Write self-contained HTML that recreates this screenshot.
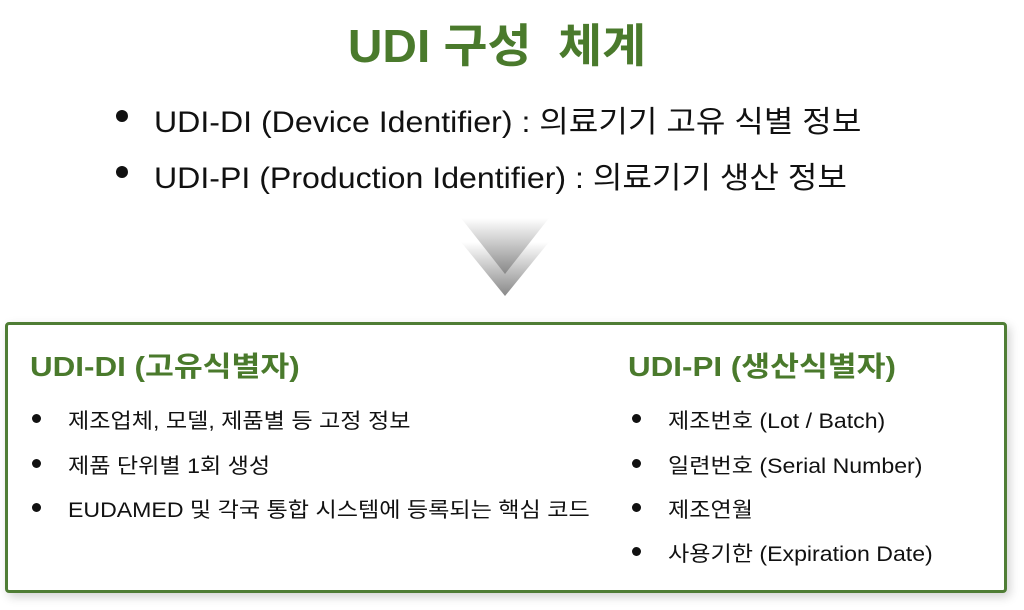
<!DOCTYPE html>
<html><head><meta charset="utf-8"><style>
body{margin:0;width:1024px;height:610px;background:#fff;position:relative;overflow:hidden;font-family:"Liberation Sans","Noto Sans CJK KR",sans-serif;}
.a{position:absolute;white-space:nowrap;transform-origin:0 50%;}
.title{left:0;width:994px;text-align:center;top:10px;font-size:46px;font-weight:bold;color:#4a7a2c;transform:scaleX(1.04);transform-origin:50% 50%;}
.b1{font-size:30px;color:#111;transform:scaleX(1.07);}
.dot{position:absolute;border-radius:50%;background:#111;}
.box{position:absolute;left:5px;top:322px;width:996px;height:265px;border:3px solid #4f7d35;border-radius:4px;box-shadow:3px 4px 10px rgba(0,0,0,0.18);}
.h{font-size:28px;font-weight:bold;color:#4a7a2c;transform:scaleX(1.12);}
.li{font-size:21px;color:#111;transform:scaleX(1.1);}
</style></head><body>
<div class="a title">UDI 구성&nbsp; 체계</div>
<div class="dot" style="left:116px;top:110px;width:12px;height:12px"></div>
<div class="a b1" style="left:154px;top:97px">UDI-DI (Device Identifier) : 의료기기 고유 식별 정보</div>
<div class="dot" style="left:116px;top:166px;width:12px;height:12px"></div>
<div class="a b1" style="left:154px;top:153px">UDI-PI (Production Identifier) : 의료기기 생산 정보</div>
<svg class="a" style="left:455px;top:212px" width="100" height="90">
<defs><linearGradient id="g" x1="0" y1="0" x2="0" y2="1"><stop offset="0" stop-color="#fff"/><stop offset="1" stop-color="#888"/></linearGradient></defs>
<polygon points="6,30 94,30 50,84" fill="url(#g)"/>
<polygon points="6,6 94,6 50,62" fill="url(#g)"/>
</svg>
<div class="box"></div>
<div class="a h" style="left:30px;top:345px">UDI-DI (고유식별자)</div>
<div class="a h" style="left:628px;top:345px">UDI-PI (생산식별자)</div>
<div class="dot" style="left:32px;top:414px;width:9px;height:9px"></div>
<div class="a li" style="left:68px;top:405px">제조업체, 모델, 제품별 등 고정 정보</div>
<div class="dot" style="left:32px;top:459px;width:9px;height:9px"></div>
<div class="a li" style="left:68px;top:450px">제품 단위별 1회 생성</div>
<div class="dot" style="left:32px;top:503px;width:9px;height:9px"></div>
<div class="a li" style="left:68px;top:494px">EUDAMED 및 각국 통합 시스템에 등록되는 핵심 코드</div>
<div class="dot" style="left:632px;top:414px;width:9px;height:9px"></div>
<div class="a li" style="left:668px;top:405px">제조번호 (Lot / Batch)</div>
<div class="dot" style="left:632px;top:459px;width:9px;height:9px"></div>
<div class="a li" style="left:668px;top:450px">일련번호 (Serial Number)</div>
<div class="dot" style="left:632px;top:503px;width:9px;height:9px"></div>
<div class="a li" style="left:668px;top:494px">제조연월</div>
<div class="dot" style="left:632px;top:547px;width:9px;height:9px"></div>
<div class="a li" style="left:668px;top:538px">사용기한 (Expiration Date)</div>
</body></html>
